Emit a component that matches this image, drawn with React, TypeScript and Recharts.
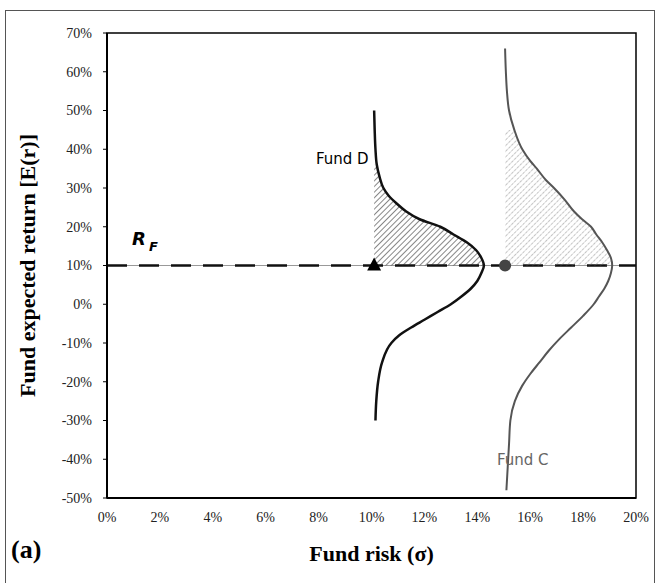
import React from 'react';
import { ComposedChart, Scatter, XAxis, YAxis, ReferenceLine, ReferenceArea } from 'recharts';

// Axis ticks (percent)
const xTicks = [0, 2, 4, 6, 8, 10, 12, 14, 16, 18, 20];
const yTicks = [-50, -40, -30, -20, -10, 0, 10, 20, 30, 40, 50, 60, 70];

// Risk-free rate (percent)
const riskFree = 10;

// Fund D distribution curve: expected return (y) vs drawn risk position (x)
const fundDReturns = [-30, -25, -20, -15, -10, -8, -6, -4, -2, 0, 2, 4, 6, 8, 10, 12, 14, 16, 18, 20, 22, 24, 26, 28, 30, 33, 36, 40, 45, 50];
const fundDRisk = [10.15, 10.18, 10.25, 10.4, 10.75, 11.05, 11.5, 12.0, 12.5, 13.0, 13.4, 13.75, 14.0, 14.15, 14.25, 14.15, 13.95, 13.6, 13.1, 12.6, 11.8, 11.3, 10.95, 10.65, 10.45, 10.3, 10.2, 10.15, 10.12, 10.1];

// Fund C distribution curve
const fundCReturns = [-48, -42, -36, -30, -25, -21, -18, -15, -12, -9, -6, -3, 0, 2, 4, 6, 8, 10, 12, 14, 16, 18, 20, 22, 24, 27, 30, 32, 35, 37, 40, 45, 50, 55, 60, 66];
const fundCRisk = [15.1, 15.15, 15.2, 15.25, 15.42, 15.7, 16.0, 16.35, 16.7, 17.1, 17.55, 18.0, 18.4, 18.6, 18.8, 18.95, 19.05, 19.1, 19.05, 18.9, 18.72, 18.5, 18.3, 17.95, 17.65, 17.3, 16.9, 16.6, 16.25, 16.0, 15.7, 15.4, 15.2, 15.12, 15.08, 15.05];

// Upper limits of the hatched (above risk-free) regions
const fundDHatchTop = 36;
const fundCHatchTop = 45;

// Fund markers on the risk-free line
const fundDMarkerRisk = 10.1;
const fundCMarkerRisk = 15.05;

const fundD = fundDReturns.map((r, i) => ({ x: fundDRisk[i], y: r }));
const fundC = fundCReturns.map((r, i) => ({ x: fundCRisk[i], y: r }));

const hatchPolygon = (curve: { x: number; y: number }[], baseX: number, top: number) => [
  { x: baseX, y: riskFree },
  ...curve.filter((p) => p.y >= riskFree && p.y <= top),
  { x: baseX, y: top },
  { x: baseX, y: riskFree },
];

const hatchD = hatchPolygon(fundD, fundDRisk[fundDRisk.length - 1], fundDHatchTop);
const hatchC = hatchPolygon(fundC, fundCMarkerRisk, fundCHatchTop);

const triangleData = [{ x: fundDMarkerRisk, y: riskFree }];
const circleData = [{ x: fundCMarkerRisk, y: riskFree }];

const nothing = () => <g />;
const triangleShape = (p: any) => (
  <polygon points={`${p.cx - 7},${p.cy + 5} ${p.cx + 7},${p.cy + 5} ${p.cx},${p.cy - 8}`} fill="#000" />
);
const circleShape = (p: any) => <circle cx={p.cx} cy={p.cy} r={6} fill="#444" />;

const serif = '"Liberation Serif", "Times New Roman", serif';
const handFont = '"DejaVu Sans", "Noto Sans", sans-serif';

const pct = (v: number) => `${v}%`;

const css = `
.recharts-cartesian-axis-tick-value, .recharts-cartesian-axis-tick text, .recharts-label {
  font-family: "Liberation Serif", "Times New Roman", serif !important;
}
`;

export default function App() {
  return (
    <div style={{ position: 'absolute', left: 0, top: 0, width: 660, height: 583, background: '#fff', overflow: 'hidden', fontFamily: serif }}>
      <style>{css}</style>
      <ComposedChart width={660} height={583} margin={{ top: 33, right: 24, bottom: 20, left: 15 }}>
        <defs>
          <pattern id="hatchD" patternUnits="userSpaceOnUse" width="4" height="4" patternTransform="rotate(45)">
            <line x1="0" y1="0" x2="0" y2="4" stroke="#222" strokeWidth="1.1" />
          </pattern>
          <pattern id="hatchC" patternUnits="userSpaceOnUse" width="4" height="4" patternTransform="rotate(45)">
            <line x1="0" y1="0" x2="0" y2="4" stroke="#888" strokeWidth="1" strokeDasharray="1.5 1" />
          </pattern>
        </defs>
        <XAxis
          dataKey="x"
          type="number"
          domain={[0, 20]}
          ticks={xTicks}
          tickFormatter={pct}
          tickLine={false}
          tickSize={4}
          tickMargin={10}
          height={65}
          axisLine={{ stroke: '#000', strokeWidth: 2 }}
          tick={{ fontFamily: serif, fontSize: 14, fill: '#222' }}
          label={{ value: 'Fund risk (σ)', position: 'insideBottom', offset: 2, style: { fontFamily: serif, fontWeight: 'bold', fontSize: 22, fill: '#000' } }}
        />
        <YAxis
          dataKey="y"
          type="number"
          domain={[-50, 70]}
          ticks={yTicks}
          tickFormatter={pct}
          tickSize={4}
          tickMargin={11}
          width={92}
          axisLine={{ stroke: '#000', strokeWidth: 2 }}
          tickLine={{ stroke: '#000' }}
          tick={{ fontFamily: serif, fontSize: 14, fill: '#222' }}
          label={{ value: 'Fund expected return [E(r)]', angle: -90, position: 'insideLeft', offset: 12, style: { textAnchor: 'middle', fontFamily: serif, fontWeight: 'bold', fontSize: 22, fill: '#000' } }}
        />
        <ReferenceArea x1={0} x2={20} y1={-50} y2={70} fill="none" stroke="#000" strokeWidth={1.5} />
        <Scatter data={hatchD} isAnimationActive={false} shape={nothing} line={{ stroke: 'none', fill: 'url(#hatchD)' }} lineType="joint" lineJointType="linear" legendType="none" />
        <Scatter data={hatchC} isAnimationActive={false} shape={nothing} line={{ stroke: 'none', fill: 'url(#hatchC)' }} lineType="joint" lineJointType="linear" legendType="none" />
        <ReferenceLine y={riskFree} stroke="#999" strokeWidth={1} />
        <ReferenceLine y={riskFree} stroke="#111" strokeWidth={2.5} strokeDasharray="20 12" />
        <Scatter data={fundD} isAnimationActive={false} shape={nothing} line={{ stroke: '#111', strokeWidth: 2.5, fill: 'none' }} lineType="joint" lineJointType="monotoneY" legendType="none" />
        <Scatter data={fundC} isAnimationActive={false} shape={nothing} line={{ stroke: '#555', strokeWidth: 2, fill: 'none' }} lineType="joint" lineJointType="monotoneY" legendType="none" />
        <Scatter data={triangleData} isAnimationActive={false} shape={triangleShape} legendType="none" />
        <Scatter data={circleData} isAnimationActive={false} shape={circleShape} legendType="none" />
      </ComposedChart>
      <div style={{ position: 'absolute', left: 5, top: 10, width: 650, height: 600, border: '1.5px solid #555', boxSizing: 'border-box', pointerEvents: 'none' }} />
      <div style={{ position: 'absolute', left: 132, top: 228, fontFamily: handFont, fontStyle: 'italic', fontWeight: 'bold', fontSize: 18, color: '#000', whiteSpace: 'nowrap' }}>
        R<span style={{ fontSize: 13, position: 'relative', top: 6, marginLeft: 3 }}>F</span>
      </div>
      <div style={{ position: 'absolute', left: 316, top: 150, fontFamily: handFont, fontSize: 15, color: '#000', whiteSpace: 'nowrap' }}>Fund D</div>
      <div style={{ position: 'absolute', left: 497, top: 451, fontFamily: handFont, fontSize: 15, color: '#666', whiteSpace: 'nowrap' }}>Fund C</div>
      <div style={{ position: 'absolute', left: 11, top: 535, fontFamily: serif, fontWeight: 'bold', fontSize: 26, color: '#000', whiteSpace: 'nowrap' }}>(a)</div>
    </div>
  );
}
